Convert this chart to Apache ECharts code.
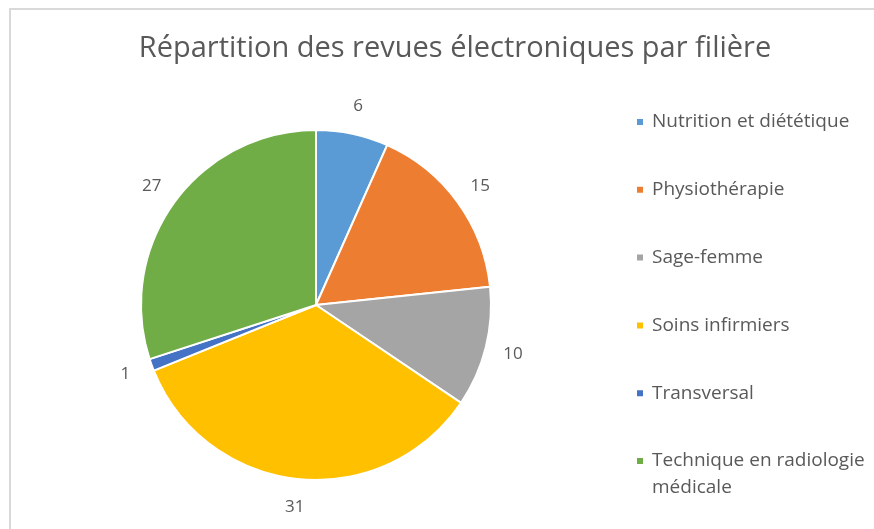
<!DOCTYPE html>
<html>
<head>
<meta charset="utf-8">
<script src="https://cdn.jsdelivr.net/npm/echarts@6/dist/echarts.min.js"></script>
<style>
html,body{margin:0;padding:0;background:#fff;}
#chart{width:874px;height:529px;}
</style>
</head>
<body>
<div id="chart"></div>
<script>
const titleText = 'Répartition des revues électroniques par filière';
const categories = ['Nutrition et diététique', 'Physiothérapie', 'Sage-femme', 'Soins infirmiers', 'Transversal', 'Technique en radiologie médicale'];
const values = [6, 15, 10, 31, 1, 27];
const colors = ['#5B9BD5', '#ED7D31', '#A5A5A5', '#FFC000', '#4472C4', '#70AD47'];

const font = 'Open Sans';
const textColor = '#595959';
const data = categories.map((c, i) => ({ name: c, value: values[i] }));

const chart = echarts.init(document.getElementById('chart'));
chart.setOption({
  backgroundColor: '#fff',
  color: colors,
  animation: false,
  graphic: [{
    type: 'rect', silent: true,
    shape: { x: 10, y: 9, width: 900, height: 600 },
    style: { fill: 'none', stroke: '#d9d9d9', lineWidth: 2 }
  }],
  title: {
    text: titleText,
    left: 450, top: 26, textAlign: 'center',
    textStyle: { fontFamily: font, fontSize: 29, fontWeight: 'normal', color: textColor, lineHeight: 36 }
  },
  legend: [{
    orient: 'vertical', left: 630, top: 106,
    itemWidth: 8, itemHeight: 8, itemGap: 45.8, icon: 'rect',
    data: categories.slice(0, 5),
    textStyle: { fontFamily: font, fontSize: 19, color: textColor, lineHeight: 22, padding: [0, 0, 0, 3] }
  }, {
    orient: 'vertical', left: 630, top: 415.5,
    itemWidth: 8, itemHeight: 8, icon: 'rect',
    data: categories.slice(5),
    formatter: () => '\nTechnique en radiologie\nmédicale',
    textStyle: { fontFamily: font, fontSize: 19, color: textColor, lineHeight: 27, padding: [0, 0, 0, 3] }
  }],
  series: [{
    type: 'pie', center: [316, 305], radius: [0, 175],
    startAngle: 90, clockwise: true,
    itemStyle: { borderColor: '#fff', borderWidth: 2 },
    label: { show: false }, labelLine: { show: false },
    emphasis: { disabled: true },
    data: data
  }, {
    type: 'pie', center: [316, 305], radius: [190, 210],
    startAngle: 90, clockwise: true, silent: true,
    itemStyle: { color: 'rgba(0,0,0,0)' },
    label: { show: true, position: 'inside', formatter: '{c}', fontFamily: font, fontSize: 17, color: textColor },
    labelLine: { show: false },
    emphasis: { disabled: true },
    data: data
  }]
});
</script>
</body>
</html>
